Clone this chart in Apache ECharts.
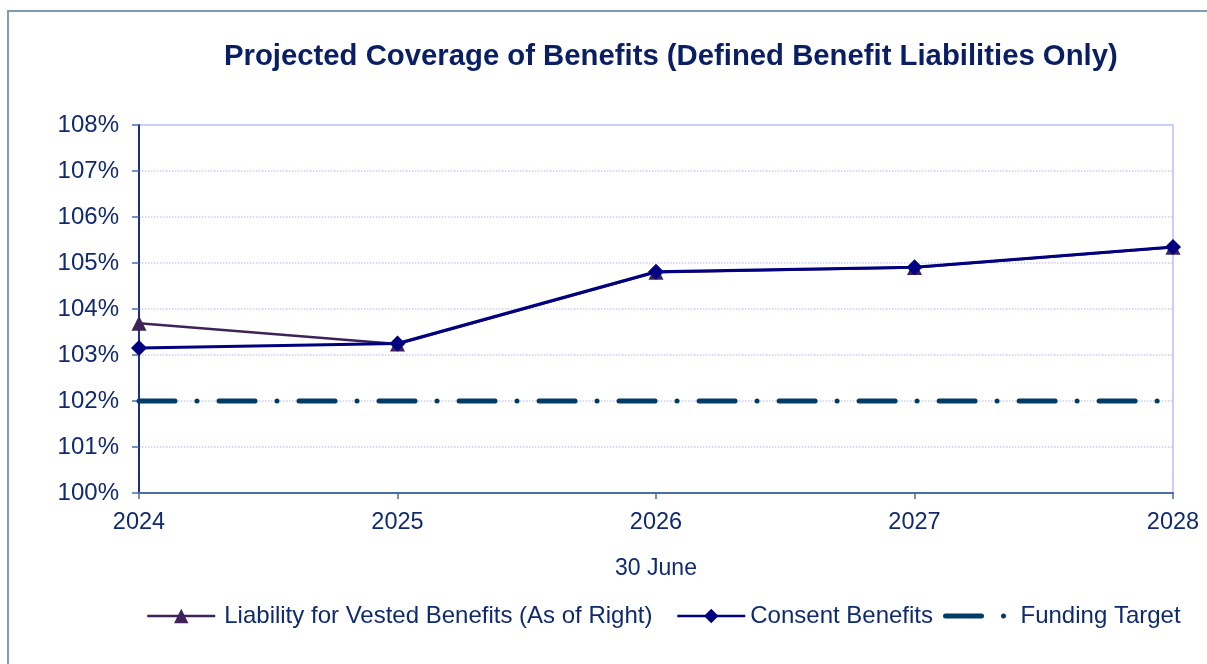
<!DOCTYPE html>
<html>
<head>
<meta charset="utf-8">
<script src="https://cdn.jsdelivr.net/npm/echarts@6/dist/echarts.min.js"></script>
<style>
html,body{margin:0;padding:0;background:#fff;}
#c{width:1207px;height:664px;}
</style>
</head>
<body>
<div id="c"></div>
<script>
const categories = ['2024', '2025', '2026', '2027', '2028'];
const vestedBenefits = [103.69, 103.24, 104.80, 104.90, 105.34];
const consentBenefits = [103.15, 103.25, 104.81, 104.91, 105.35];
const fundingTarget = [102, 102, 102, 102, 102];
const seriesNames = ['Liability for Vested Benefits (As of Right)', 'Consent Benefits', 'Funding Target'];

const textColor = '#0f2a6e';
const font = 'Liberation Sans, Arial, sans-serif';
const fundingDash = [36, 22, 0.01, 22];

const chart = echarts.init(document.getElementById('c'));
chart.setOption({
  animation: false,
  backgroundColor: '#fff',
  graphic: [{
    type: 'rect',
    shape: { x: 8, y: 11, width: 1260, height: 720 },
    style: { fill: 'none', stroke: '#7f9bb2', lineWidth: 2 },
    silent: true, z: -1
  }],
  title: {
    text: 'Projected Coverage of Benefits (Defined Benefit Liabilities Only)',
    left: 219, top: 37,
    textStyle: { fontFamily: font, fontSize: 29.3, fontWeight: 'bold', color: '#0a1f63' }
  },
  legend: [
    { left: 141, top: 599, itemWidth: 68, itemHeight: 18,
      data: [{ name: seriesNames[0], lineStyle: { width: 2.5 } }],
      textStyle: { fontFamily: font, fontSize: 24, color: textColor, padding: [0, 0, 0, 4] } },
    { left: 671, top: 599, itemWidth: 68, itemHeight: 18,
      data: [{ name: seriesNames[1], lineStyle: { width: 2.5 } }],
      textStyle: { fontFamily: font, fontSize: 24, color: textColor, padding: [0, 0, 0, 0] } },
    { left: 938, top: 599, itemWidth: 68, itemHeight: 18,
      data: [{ name: seriesNames[2], itemStyle: { opacity: 0 }, lineStyle: { width: 5, type: fundingDash, cap: 'round' } }],
      textStyle: { fontFamily: font, fontSize: 24, color: textColor, padding: [0, 0, 0, 2] } }
  ],
  grid: {
    left: 139, right: 34, top: 125, bottom: 171,
    show: true, borderColor: '#ccccff', borderWidth: 2, backgroundColor: 'transparent'
  },
  xAxis: {
    type: 'category',
    data: categories,
    boundaryGap: false,
    name: '30 June',
    nameLocation: 'middle',
    nameGap: 64,
    nameTextStyle: { fontFamily: font, fontSize: 23, color: textColor },
    axisLine: { lineStyle: { color: '#4a6ea6', width: 2 } },
    axisTick: { show: true, length: 6, lineStyle: { color: '#4a6ea6', width: 1.5 } },
    axisLabel: { margin: 18, fontFamily: font, fontSize: 23.5, color: textColor },
    splitLine: { show: false }
  },
  yAxis: {
    type: 'value',
    min: 100, max: 108, interval: 1,
    axisLine: { show: true, lineStyle: { color: '#1a2f8a', width: 2 } },
    axisTick: { show: true, length: 7, lineStyle: { color: '#4a6ea6', width: 1.5 } },
    axisLabel: { margin: 20, fontFamily: font, fontSize: 24, color: textColor, formatter: '{value}%' },
    splitLine: { show: true, lineStyle: { color: '#ccccff', type: 'dotted', width: 1.5 } }
  },
  series: [
    {
      name: seriesNames[0], type: 'line', data: vestedBenefits,
      symbol: 'triangle', symbolSize: 15, showAllSymbol: true,
      lineStyle: { color: '#3f2358', width: 2.5 },
      itemStyle: { color: '#3f2358' }, z: 2
    },
    {
      name: seriesNames[1], type: 'line', data: consentBenefits,
      symbol: 'diamond', symbolSize: 16, showAllSymbol: true,
      lineStyle: { color: '#000080', width: 3 },
      itemStyle: { color: '#000080' }, z: 3
    },
    {
      name: seriesNames[2], type: 'line', data: fundingTarget,
      symbol: 'none',
      lineStyle: { color: '#003d66', width: 5, type: fundingDash, cap: 'round' },
      itemStyle: { color: '#003d66' }, z: 1
    }
  ]
});
</script>
</body>
</html>
